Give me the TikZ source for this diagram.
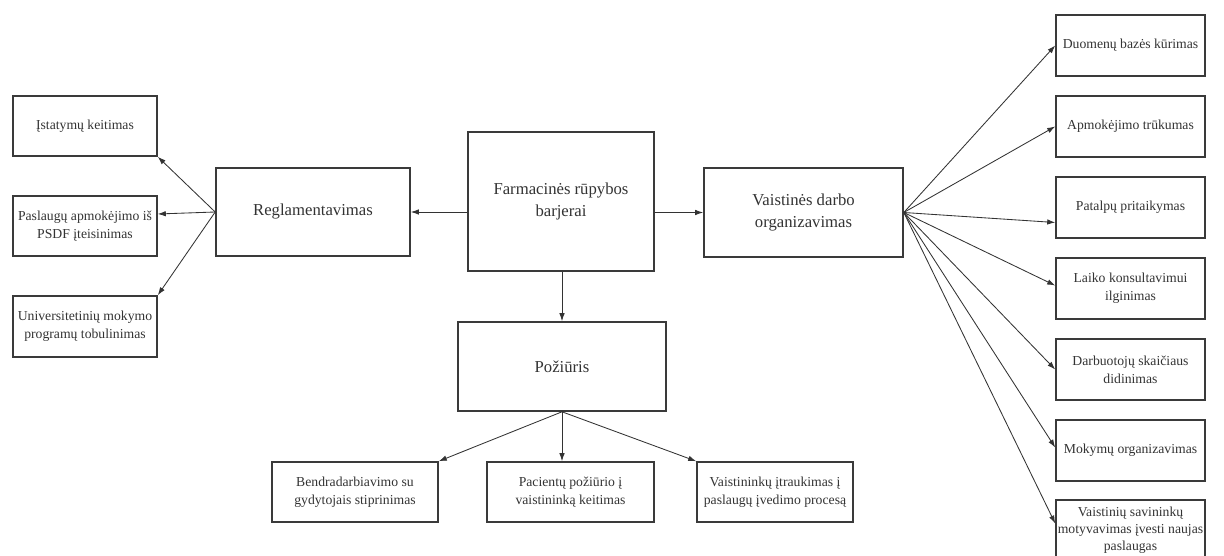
\documentclass[tikz,border=0pt]{standalone}
\usepackage{fontspec}
\setmainfont{Liberation Serif}
\newfontfamily\lserif{Liberation Serif}
\usetikzlibrary{arrows.meta}
\definecolor{ink}{HTML}{333333}
\definecolor{edge}{HTML}{3A3A3A}
\tikzset{
  box/.style={draw=edge, line width=1.6pt, rectangle, align=center, text=ink, inner sep=2pt,
              font=\lserif\fontsize{13.7}{18}\selectfont},
  bigbox/.style={box, font=\lserif\fontsize{16.7}{22}\selectfont},
  conn/.style={draw=ink, line width=0.85pt, -{Latex[length=8pt,width=5.5pt]}},
}
\begin{document}
\begin{tikzpicture}[x=1pt,y=-1pt]
\useasboundingbox (0,0) rectangle (1224,556);
% left column
\node[box, minimum width=144pt, minimum height=60pt] (ist) at (85,126) {Įstatymų keitimas};
\node[box, minimum width=144pt, minimum height=60pt] (pasl) at (85,226) {Paslaugų apmokėjimo iš\\PSDF įteisinimas};
\node[box, minimum width=144pt, minimum height=61pt] (univ) at (85,326.5) {Universitetinių mokymo\\programų tobulinimas};
% main row
\node[bigbox, minimum width=194pt, minimum height=88pt] (regl) at (313,212) {Reglamentavimas};
\node[bigbox, minimum width=186pt, minimum height=139pt] (farm) at (561,201.5) {Farmacinės rūpybos\\barjerai};
\node[bigbox, minimum width=199pt, minimum height=89pt] (vaist) at (803.5,212.5) {Vaistinės darbo\\organizavimas};
\node[bigbox, minimum width=208pt, minimum height=89pt] (poz) at (562,366.5) {Požiūris};
% bottom row
\node[box, minimum width=166pt, minimum height=60pt] (bend) at (355,492) {Bendradarbiavimo su\\gydytojais stiprinimas};
\node[box, minimum width=167pt, minimum height=60pt] (pac) at (570.5,492) {Pacientų požiūrio į\\vaistininką keitimas};
\node[box, minimum width=156pt, minimum height=60pt] (vtr) at (775,492) {Vaistininkų įtraukimas į\\paslaugų įvedimo procesą};
% right column
\node[box, minimum width=149pt, minimum height=61pt] (r1) at (1130.5,45.5) {Duomenų bazės kūrimas};
\node[box, minimum width=149pt, minimum height=61pt] (r2) at (1130.5,126.5) {Apmokėjimo trūkumas};
\node[box, minimum width=149pt, minimum height=61pt] (r3) at (1130.5,207.5) {Patalpų pritaikymas};
\node[box, minimum width=149pt, minimum height=61pt] (r4) at (1130.5,288.5) {Laiko konsultavimui\\ilginimas};
\node[box, minimum width=149pt, minimum height=61pt] (r5) at (1130.5,369.5) {Darbuotojų skaičiaus\\didinimas};
\node[box, minimum width=149pt, minimum height=61pt] (r6) at (1130.5,450.5) {Mokymų organizavimas};
\node[box, minimum width=149pt, minimum height=61pt, inner sep=1pt, font=\lserif\fontsize{13.7}{17}\selectfont] (r7) at (1130.5,530.5) {Vaistinių savininkų\\motyvavimas įvesti naujas\\paslaugas};
% connectors
\draw[conn] (regl.west) -- (ist.south east);
\draw[conn] (regl.west) -- ([yshift=12pt]pasl.east);
\draw[conn] (regl.west) -- (univ.north east);
\draw[conn] (farm.west |- regl.east) -- (regl.east);
\draw[conn] (farm.east |- vaist.west) -- (vaist.west);
\draw[conn] (poz.north |- farm.south) -- (poz.north);
\draw[conn] (poz.south) -- (bend.north east);
\draw[conn] (poz.south) -- (poz.south |- pac.north);
\draw[conn] (poz.south) -- (vtr.north west);
\draw[conn] (vaist.east) -- (r1.west);
\draw[conn] (vaist.east) -- (r2.west);
\draw[conn] (vaist.east) -- ([yshift=-15pt]r3.west);
\draw[conn] (vaist.east) -- ([yshift=3pt]r4.west);
\draw[conn] (vaist.east) -- (r5.west);
\draw[conn] (vaist.east) -- ([yshift=3pt]r6.west);
\draw[conn] (vaist.east) -- ([yshift=7pt]r7.west);
\end{tikzpicture}
\end{document}
